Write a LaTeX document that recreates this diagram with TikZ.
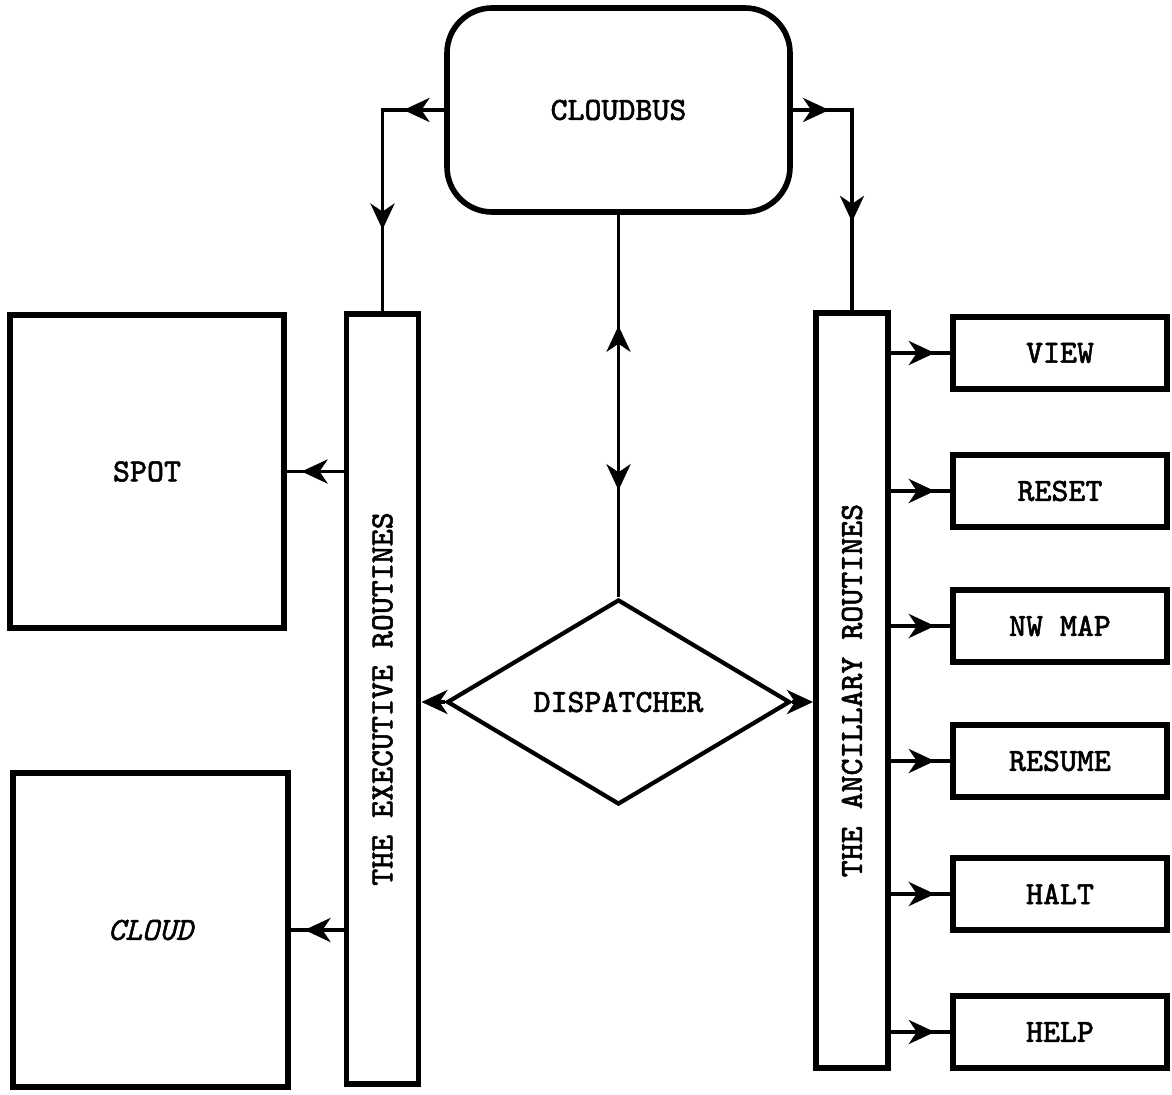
\documentclass[tikz,border=0pt]{standalone}
\usepackage{fontspec}
\setmonofont{Latin Modern Mono}[FakeBold=1.6]
\usetikzlibrary{positioning,shapes.geometric,arrows.meta,decorations.markings}
\tikzset{
>={Stealth[length=2.6mm,width=2.4mm,inset=0.8mm]}, % hand drawn looking heads
every node/.style={font=\ttfamily\fontsize{9.2}{11}\selectfont},
module/.style={draw, line width=1.6pt, inner sep=0pt},
routine/.style={draw, line width=1.7pt, minimum width=7.2mm, inner sep=0pt},
subbox/.style={draw, line width=1.6pt, minimum width=21.4mm, minimum height=7.2mm},
conn/.style={line width=1.1pt},
}
\tikzset{
    midarrow/.style={postaction={decorate},
         decoration={markings, mark=at position #1 with {\arrow{>}}}},
    midarrow/.default=0.74,
    twoarrows/.style 2 args={postaction={decorate},
         decoration={markings, mark=at position #1 with {\arrow{>}},
                     mark=at position #2 with {\arrow{>}}}}
}

\begin{document}
\begin{tikzpicture}[on grid, x=1mm, y=1mm]
   \useasboundingbox (0,0) rectangle (117.2,-109.5);
   \node[module, rounded corners=4.5mm, minimum width=34.3mm, minimum height=20.4mm] (cloudbus) at (61.85,-11) {CLOUDBUS};
   \node[diamond, draw, line width=1.2pt, minimum width=34.3mm, minimum height=20.5mm, inner sep=0pt] (disp) [below=59.2mm of cloudbus] {DISPATCHER};
   \node[routine, minimum height=77mm] (exec) [below left=58.9mm and 23.6mm of cloudbus] {\rotatebox{90}{THE EXECUTIVE ROUTINES}};
   \node[routine, minimum height=75.5mm] (anc) [below right=58.05mm and 23.35mm of cloudbus] {\rotatebox{90}{THE ANCILLARY ROUTINES}};
   \node[module, minimum width=27.4mm, minimum height=31.3mm] (spot) [above left=22.75mm and 23.55mm of exec] {SPOT};
   \node[module, minimum width=27.5mm, minimum height=31.4mm] (cloud) [below left=23.1mm and 23.2mm of exec] {\itshape CLOUD};
   \node[subbox] (view) [above right=33.75mm and 20.8mm of anc] {VIEW};
   \node[subbox] (reset) [below=13.8mm of view] {RESET};
   \node[subbox] (nwmap) [below=13.5mm of reset] {NW MAP};
   \node[subbox] (resume) [below=13.5mm of nwmap] {RESUME};
   \node[subbox] (halt) [below=13.3mm of resume] {HALT};
   \node[subbox] (help) [below=13.8mm of halt] {HELP};
   % bus out of the cloudbus
   \draw[conn, twoarrows={0.155}{0.69}] (cloudbus.west) -| (exec.north);
   \draw[conn, twoarrows={0.14}{0.66}] (cloudbus.east) -| (anc.north);
   \draw[conn, postaction={decorate}, decoration={markings,
         mark=at position 0.29 with {\arrowreversed{>}},
         mark=at position 0.72 with {\arrow{>}}}] (cloudbus.south) -- (disp.north);
   \draw[conn, ->] (disp.west) -- (disp.west -| exec.east);
   \draw[conn, ->] (disp.east) -- (disp.east -| anc.west);
    \path[conn] 
    (spot.east -| exec.west) edge[midarrow] (spot.east)
    (cloud.east -| exec.west) edge[midarrow] (cloud.east)
    (view.west -| anc.east) edge[midarrow] (view.west)
    (reset.west -| anc.east) edge[midarrow] (reset.west)
    (nwmap.west -| anc.east) edge[midarrow] (nwmap.west)
    (resume.west -| anc.east) edge[midarrow] (resume.west)
    (halt.west -| anc.east) edge[midarrow] (halt.west)
    (help.west -| anc.east) edge[midarrow] (help.west);
\end{tikzpicture}
\end{document}
